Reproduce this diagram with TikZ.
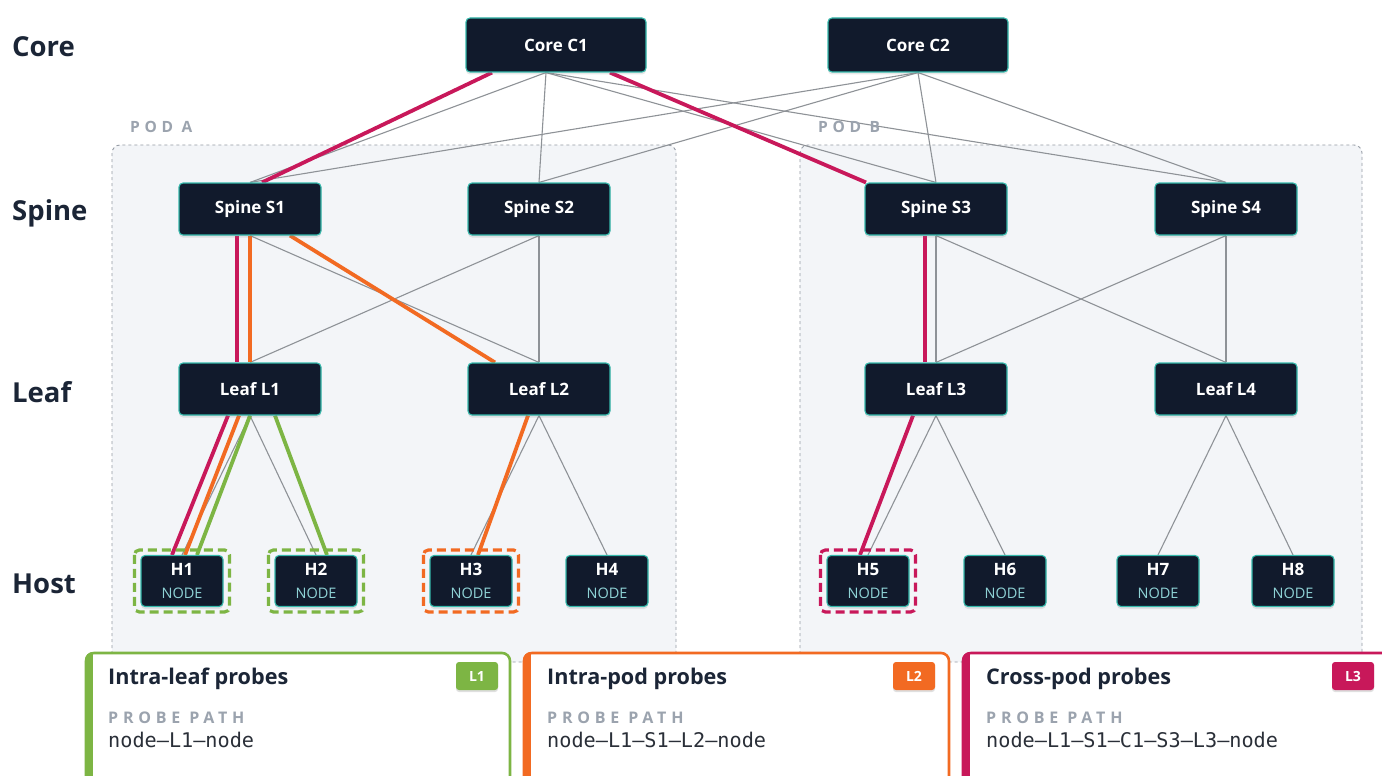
\documentclass[tikz,border=0pt]{standalone}
\usepackage{fontspec}
\setmainfont{Open Sans}
\newfontfamily\monofont{DejaVu Sans Mono}
\newfontfamily\trackfont[LetterSpace=30]{Open Sans}
\usetikzlibrary{shadows}

\definecolor{navy}{HTML}{111A2C}
\definecolor{tealb}{HTML}{35B9AC}
\definecolor{nodetxt}{HTML}{8FD3D6}
\definecolor{podfill}{HTML}{F3F5F8}
\definecolor{poddash}{HTML}{959BA4}
\definecolor{podlbl}{HTML}{9BA3AE}
\definecolor{linkgray}{HTML}{8E9297}
\definecolor{pathred}{HTML}{C8185A}
\definecolor{pathorange}{HTML}{F26A22}
\definecolor{pathgreen}{HTML}{7DB544}
\definecolor{ink}{HTML}{1B2536}
\definecolor{monoink}{HTML}{2A2F38}

\pgfdeclarelayer{pods}
\pgfdeclarelayer{links}
\pgfdeclarelayer{front}
\pgfsetlayers{pods,links,main,front}

\tikzset{
  dev/.style={draw=tealb, line width=1.1pt, fill=navy, rounded corners=4pt,
    text=white, font=\bfseries\fontsize{17}{20}\selectfont,
    minimum width=142pt, minimum height=52pt, inner sep=0pt,
    drop shadow={opacity=0.18, shadow xshift=0pt, shadow yshift=-2.5pt}},
  corebox/.style={dev, minimum width=180pt, minimum height=54pt},
  hostbox/.style={dev, minimum width=82pt, minimum height=51pt, align=center,
    font=\bfseries\fontsize{17}{23}\selectfont},
  layerlbl/.style={anchor=west, text=ink, inner sep=0pt,
    font=\bfseries\fontsize{27.5}{30}\selectfont},
  podlabel/.style={anchor=west, text=podlbl, inner sep=0pt,
    font=\trackfont\bfseries\fontsize{15.5}{17}\selectfont},
  pod/.style={draw=poddash, dashed, line width=0.9pt, fill=podfill, rounded corners=8pt},
  link/.style={draw=linkgray, line width=1.1pt},
  hot/.style={line width=3.8pt},
  hilite/.style={dash pattern=on 9pt off 5pt, line width=3.2pt, rounded corners=5pt},
  cardtitle/.style={anchor=west, text=ink, inner sep=0pt,
    font=\bfseries\fontsize{21.6}{24}\selectfont},
  cardsub/.style={anchor=west, text=podlbl, inner sep=0pt,
    font=\trackfont\bfseries\fontsize{16}{18}\selectfont},
  cardpath/.style={anchor=west, text=monoink, inner sep=0pt,
    font=\monofont\fontsize{20.2}{23}\selectfont},
  badge/.style={text=white, rounded corners=3pt, minimum width=42pt, minimum height=28pt,
    inner sep=0pt, font=\bfseries\fontsize{14}{16}\selectfont,
    drop shadow={opacity=0.25, shadow xshift=0pt, shadow yshift=-2pt}},
}

\newcommand\hostlbl[1]{#1\\{\mdseries\color{nodetxt}\fontsize{14.5}{16}\selectfont NODE}}

\begin{document}
\begin{tikzpicture}[x=1pt,y=-1pt]
\clip (0,0) rectangle (1382,776);

% page ground and pods
\begin{pgfonlayer}{pods}
  \fill[white] (0,0) rectangle (1382,776);
  \draw[pod] (112,145) rectangle (676,662);
  \draw[pod] (800,145) rectangle (1362,662);
\end{pgfonlayer}

% layer captions
\node[layerlbl] (lblCore)  at (12,47)  {Core};
\node[layerlbl] (lblSpine) at (12,213) {Spine};
\node[layerlbl] (lblLeaf)  at (12,392) {Leaf};
\node[layerlbl] (lblHost)  at (12,584) {Host};

\node[podlabel] (podA) at (130,127) {POD A};
\node[podlabel] (podB) at (818,127) {POD B};

% core
\node[corebox] (C1) at (556,45) {Core C1};
\node[corebox] (C2) at (918,45) {Core C2};

% spines
\node[dev] (S1) at (250,209)  {Spine S1};
\node[dev] (S2) at (539,209)  {Spine S2};
\node[dev] (S3) at (936,209)  {Spine S3};
\node[dev] (S4) at (1226,209) {Spine S4};

% leaves
\node[dev] (L1) at (250,389)  {Leaf L1};
\node[dev] (L2) at (539,389)  {Leaf L2};
\node[dev] (L3) at (936,389)  {Leaf L3};
\node[dev] (L4) at (1226,389) {Leaf L4};

% hosts
\node[hostbox] (H1) at (182,581)  {\hostlbl{H1}};
\node[hostbox] (H2) at (316,581)  {\hostlbl{H2}};
\node[hostbox] (H3) at (471,581)  {\hostlbl{H3}};
\node[hostbox] (H4) at (607,581)  {\hostlbl{H4}};
\node[hostbox] (H5) at (868,581)  {\hostlbl{H5}};
\node[hostbox] (H6) at (1005,581) {\hostlbl{H6}};
\node[hostbox] (H7) at (1158,581) {\hostlbl{H7}};
\node[hostbox] (H8) at (1293,581) {\hostlbl{H8}};

\begin{pgfonlayer}{links}
  % full mesh core -> spine
  \foreach \s in {S1,S2,S3,S4}{
    \draw[link] ([xshift=-10pt]C1.south) -- (\s.north);
    \draw[link] (C2.south) -- (\s.north);
  }
  % spine -> leaf inside each pod
  \foreach \s/\l in {S1/L1,S1/L2,S2/L1,S2/L2,S3/L3,S3/L4,S4/L3,S4/L4}
    \draw[link] (\s.south) -- (\l.north);
  % leaf -> host
  \foreach \l/\h in {L1/H1,L1/H2,L2/H3,L2/H4,L3/H5,L3/H6,L4/H7,L4/H8}
    \draw[link] (\l.south) -- (\h.north);

  % cross-pod probe path
  \draw[hot, pathred] ([xshift=-64pt]C1.south) -- ([xshift=12pt]S1.north);
  \draw[hot, pathred] ([xshift=54pt]C1.south) -- ([xshift=-70pt]S3.north);
  \draw[hot, pathred] ([xshift=-13pt]S1.south) -- ([xshift=-13pt]L1.north);
  \draw[hot, pathred] ([xshift=-22pt]L1.south) -- ([xshift=-10pt]H1.north);
  \draw[hot, pathred] ([xshift=-11pt]S3.south) -- ([xshift=-11pt]L3.north);
  \draw[hot, pathred] ([xshift=-23pt]L3.south) -- ([xshift=-8pt]H5.north);
  % intra-pod probe path
  \draw[hot, pathorange] (S1.south) -- (L1.north);
  \draw[hot, pathorange] ([xshift=40pt]S1.south) -- ([xshift=-44pt]L2.north);
  \draw[hot, pathorange] ([xshift=-11pt]L1.south) -- ([xshift=3pt]H1.north);
  \draw[hot, pathorange] ([xshift=-11pt]L2.south) -- ([xshift=7pt]H3.north);
  % intra-leaf probe path
  \draw[hot, pathgreen] (L1.south) -- ([xshift=15pt]H1.north);
  \draw[hot, pathgreen] ([xshift=25pt]L1.south) -- ([xshift=11pt]H2.north);

  % probe endpoints
  \draw[hilite, pathgreen]  ([shift={(-6,-5)}]H1.north west) rectangle ([shift={(6,5)}]H1.south east);
  \draw[hilite, pathgreen]  ([shift={(-6,-5)}]H2.north west) rectangle ([shift={(6,5)}]H2.south east);
  \draw[hilite, pathorange] ([shift={(-6,-5)}]H3.north west) rectangle ([shift={(6,5)}]H3.south east);
  \draw[hilite, pathred]    ([shift={(-6,-5)}]H5.north west) rectangle ([shift={(6,5)}]H5.south east);
\end{pgfonlayer}

% legend cards
\begin{pgfonlayer}{front}
  \foreach \xa/\xb/\col in {85/511/pathgreen, 523/950/pathorange, 962/1400/pathred}{
    \fill[white, rounded corners=8pt] (\xa,652) rectangle (\xb,800);
    \begin{scope}
      \clip[rounded corners=8pt] (\xa,652) rectangle (\xb,800);
      \fill[\col] (\xa,652) rectangle (\xa+8,800);
    \end{scope}
    \draw[\col, line width=2.6pt, rounded corners=8pt] (\xa+1,653) rectangle (\xb-1,800);
  }
  \node[cardtitle] (t1) at (108,679) {Intra-leaf probes};
  \node[cardsub]   (s1) at (108,718) {PROBE PATH};
  \node[cardpath]  (p1) at (108,740) {node–L1–node};
  \node[badge, fill=pathgreen] (b1) at (477,676) {L1};

  \node[cardtitle] (t2) at (547,679) {Intra-pod probes};
  \node[cardsub]   (s2) at (547,718) {PROBE PATH};
  \node[cardpath]  (p2) at (547,740) {node–L1–S1–L2–node};
  \node[badge, fill=pathorange] (b2) at (914,676) {L2};

  \node[cardtitle] (t3) at (986,679) {Cross-pod probes};
  \node[cardsub]   (s3) at (986,718) {PROBE PATH};
  \node[cardpath]  (p3) at (986,740) {node–L1–S1–C1–S3–L3–node};
  \node[badge, fill=pathred] (b3) at (1353,676) {L3};
\end{pgfonlayer}
\end{tikzpicture}
\end{document}
